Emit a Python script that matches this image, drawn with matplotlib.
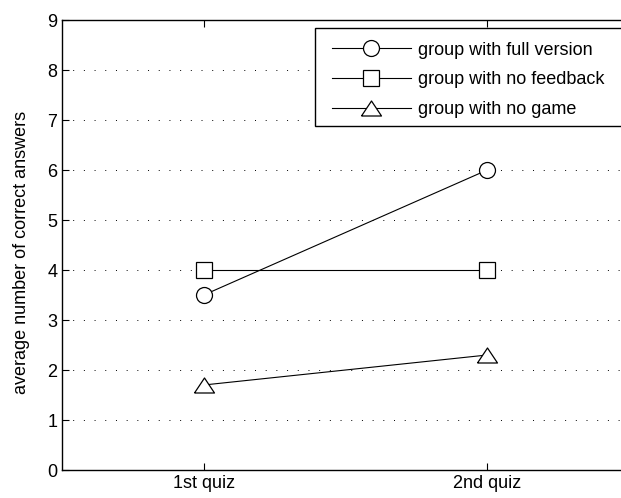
import matplotlib.pyplot as plt
from matplotlib.patches import Rectangle

plt.rcParams["font.family"] = ["Liberation Sans", "DejaVu Sans"]

quizzes = ["1st quiz", "2nd quiz"]
full_version = [3.5, 6.0]
no_feedback = [4.0, 4.0]
no_game = [1.7, 2.3]

# MATLAB-like wide triangle
tri = [(-1, -0.75), (1, -0.75), (0, 0.75), (-1, -0.75)]

fig = plt.figure(figsize=(6.21, 4.98), dpi=100)
ax = fig.add_axes([62 / 621, 28 / 498, 567 / 621, 450 / 498])

x = [1, 2]
ax.plot(x, full_version, color="black", lw=0.8, marker="o", ms=11.5,
        mfc="white", mew=0.9, label="group with full version")
ax.plot(x, no_feedback, color="black", lw=0.8, marker="s", ms=11.5,
        mfc="white", mew=0.9, label="group with no feedback")
ax.plot(x, no_game, color="black", lw=0.8, marker=tri, ms=14.4,
        mfc="white", mew=0.9, label="group with no game")

ax.set_xlim(0.5, 2.5)
ax.set_ylim(0, 9)
ax.set_xticks(x)
ax.set_xticklabels(quizzes)
ax.set_yticks(range(10))
ax.set_ylabel("average number of correct answers", fontsize=13)
ax.yaxis.set_label_coords(-0.057, 0.484)
ax.tick_params(direction="in", labelsize=13, length=5, width=0.8,
               top=True, right=True)
ax.yaxis.grid(True, color="black", linestyle=(0, (1, 10)), linewidth=0.7)
for s in ax.spines.values():
    s.set_linewidth(1.0)

# legend box runs off the right edge like the MATLAB export
box = Rectangle(((315 - 62) / 567, (470 - 126) / 450),
                1.0 - (315 - 62) / 567, 98 / 450, transform=ax.transAxes,
                facecolor="white", edgecolor="black", lw=1.0, zorder=4)
ax.add_patch(box)

leg = ax.legend(loc="upper left",
                bbox_to_anchor=((319 - 62) / 567, (470 - 29) / 450),
                fontsize=13, handlelength=4.4, handletextpad=0.4,
                frameon=False, borderaxespad=0, labelspacing=0.7,
                borderpad=0.7)

fig.savefig("out.png", dpi=100)
